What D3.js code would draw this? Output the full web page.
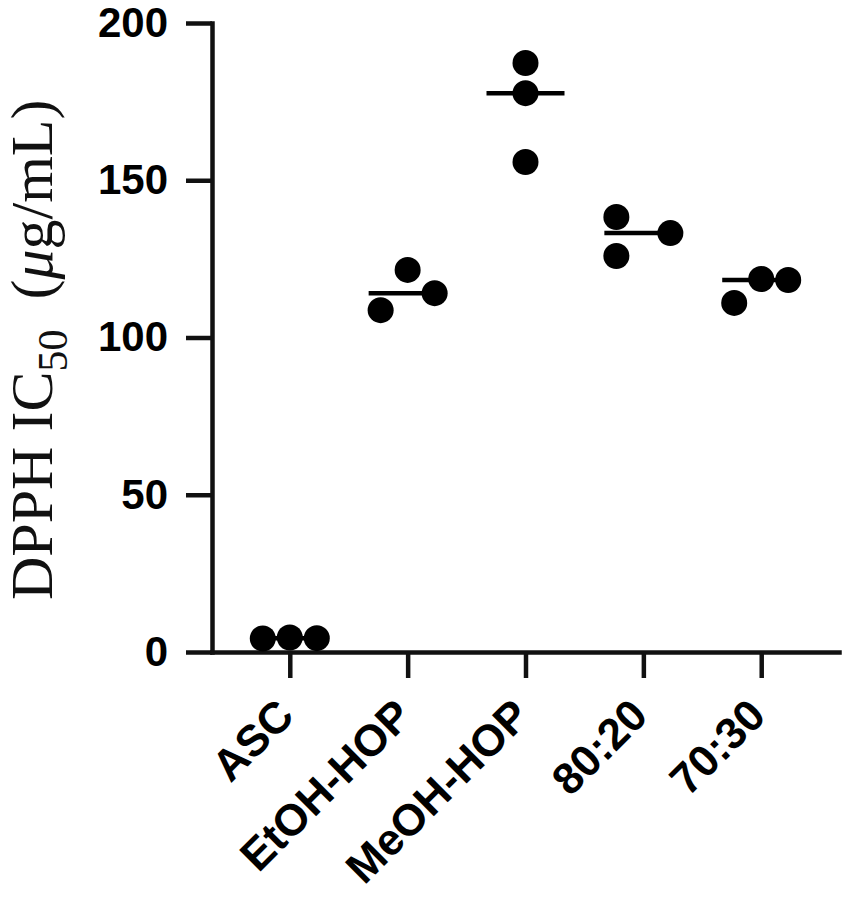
<!DOCTYPE html>
<html>
<head>
<meta charset="utf-8">
<script src="https://cdn.jsdelivr.net/npm/d3@7"></script>
<style>
  body { margin: 0; background: #fff; }
  svg { display: block; }
</style>
</head>
<body>
<div id="chart"></div>
<script>
// groups on the x axis
let groups = ["ASC", "EtOH-HOP", "MeOH-HOP", "80:20", "70:30"];

// three replicates per group (DPPH IC50, µg/mL)
let ascValues = [4.3, 4.6, 4.4];
let etohValues = [108.7, 121.5, 114.1];
let meohValues = [187.3, 177.7, 155.8];
let mix8020Values = [138.3, 125.9, 133.2];
let mix7030Values = [111.0, 118.6, 118.3];

// which column of the scatter each replicate sits in (-1 left, 0 middle, 1 right)
let ascSlots = [-1, 0, 1];
let etohSlots = [-1, 0, 1];
let meohSlots = [0, 0, 0];
let mix8020Slots = [-1, -1, 1];
let mix7030Slots = [-1, 0, 1];

let yTicks = [0, 50, 100, 150, 200];

let xScale;
let yScale;
let slotScale;

document.addEventListener("DOMContentLoaded", () => {
  createScatterPlot();
});

function buildPoints() {
  const values = [ascValues, etohValues, meohValues, mix8020Values, mix7030Values];
  const slots = [ascSlots, etohSlots, meohSlots, mix8020Slots, mix7030Slots];
  let points = [];
  groups.forEach((g, i) => {
    values[i].forEach((v, j) => {
      points.push({ group: g, value: v, slot: slots[i][j] });
    });
  });
  return points;
}

function createScatterPlot() {
  const width = 851;
  const height = 910;
  const points = buildPoints();

  const usableArea = { left: 212, right: 839, top: 23, bottom: 652 };

  xScale = d3
    .scalePoint()
    .domain(groups)
    .range([usableArea.left, usableArea.right])
    .padding(0.66);
  yScale = d3
    .scaleLinear()
    .domain([0, 200])
    .range([usableArea.bottom, usableArea.top]);
  slotScale = d3.scaleLinear().domain([-1, 1]).range([-27, 27]);

  const svg = d3
    .select("#chart")
    .append("svg")
    .attr("width", width)
    .attr("height", height);

  // Y axis
  const yAxis = d3
    .axisLeft(yScale)
    .tickValues(yTicks)
    .tickSize(26)
    .tickSizeOuter(0)
    .tickPadding(18);
  const gy = svg
    .append("g")
    .attr("transform", `translate(${usableArea.left}, 0)`)
    .call(yAxis);

  // X axis
  const xAxis = d3.axisBottom(xScale).tickSize(26).tickSizeOuter(0);
  const gx = svg
    .append("g")
    .attr("transform", `translate(0, ${usableArea.bottom})`)
    .call(xAxis);

  [gx, gy].forEach((g) => {
    g.select(".domain")
      .attr("stroke", "#111")
      .attr("stroke-width", 4.5)
      .attr("stroke-linecap", "square");
    g.selectAll(".tick line").attr("stroke", "#111").attr("stroke-width", 4.5);
    g.selectAll(".tick text")
      .attr("fill", "#000")
      .style("font-family", "'Liberation Sans', Arial, sans-serif")
      .style("font-weight", "bold")
      .style("font-size", "42px");
  });

  // rotated category labels
  gx.selectAll(".tick text")
    .attr("y", 0)
    .attr("dy", 0)
    .attr("text-anchor", "end")
    .style("font-size", "44px")
    .attr("transform", "translate(6, 66) rotate(-45)");

  // Y axis title
  const title = svg
    .append("text")
    .attr("transform", "translate(52, 600) rotate(-90)")
    .attr("text-anchor", "start")
    .style("font-family", "'Liberation Serif', 'Times New Roman', serif")
    .style("font-size", "60px")
    .style("white-space", "pre")
    .attr("fill", "#111");
  title.append("tspan").text("DPPH IC");
  title
    .append("tspan")
    .attr("dy", 15)
    .style("font-size", "42px")
    .text("50");
  title.append("tspan").attr("dy", -15).text("  (");
  title.append("tspan").style("font-style", "italic").text("μ");
  title.append("tspan").text("g/mL)");

  // median lines
  const medians = d3.rollups(
    points,
    (v) => d3.median(v, (d) => d.value),
    (d) => d.group
  );
  svg
    .append("g")
    .attr("class", "medians")
    .selectAll("line")
    .data(medians)
    .join("line")
    .attr("x1", (d) => xScale(d[0]) - 39)
    .attr("x2", (d) => xScale(d[0]) + 39)
    .attr("y1", (d) => yScale(d[1]))
    .attr("y2", (d) => yScale(d[1]))
    .attr("stroke", "#000")
    .attr("stroke-width", 4.5);

  // replicate dots
  svg
    .append("g")
    .attr("class", "dots")
    .selectAll("circle")
    .data(points)
    .join("circle")
    .attr("cx", (d) => xScale(d.group) + slotScale(d.slot))
    .attr("cy", (d) => yScale(d.value))
    .attr("r", 13)
    .attr("fill", "#000");
}
</script>
</body>
</html>
